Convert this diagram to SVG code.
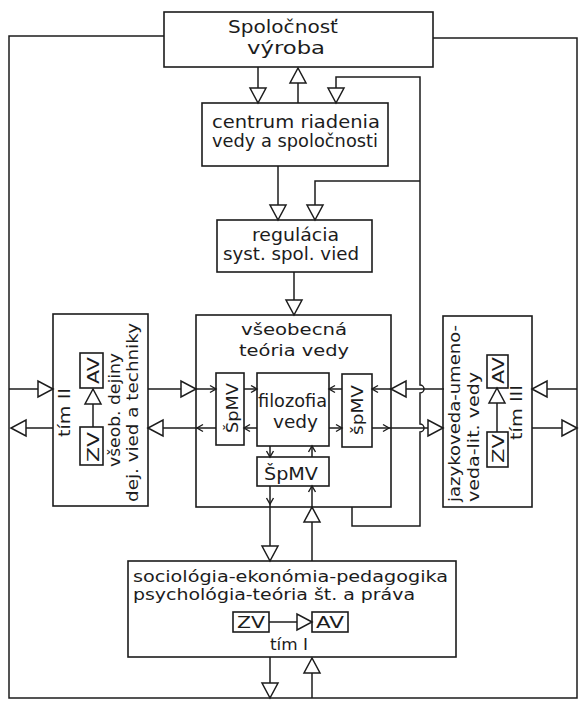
<svg xmlns="http://www.w3.org/2000/svg" width="579" height="701" viewBox="0 0 579 701">
<style>
.bx{fill:none;stroke:#1c1c1c;stroke-width:1.6}
.ln{fill:none;stroke:#1c1c1c;stroke-width:1.5}
.t{font-family:"DejaVu Sans","Liberation Sans",sans-serif;fill:#1c1c1c;font-size:17px}
.s{font-size:16px}
</style>
<defs>
<marker id="tri" markerUnits="userSpaceOnUse" markerWidth="20" markerHeight="20" viewBox="-17 -10 20 20" refX="0" refY="0" orient="auto" overflow="visible">
<path d="M0,0 L-15,-8 L-15,8 Z" fill="#fff" stroke="#1c1c1c" stroke-width="1.5"/>
</marker>
<marker id="chev" markerUnits="userSpaceOnUse" markerWidth="10" markerHeight="10" viewBox="-8 -5 10 10" refX="0" refY="0" orient="auto" overflow="visible">
<path d="M-6,-3.5 L0,0 L-6,3.5" fill="none" stroke="#1c1c1c" stroke-width="1.4"/>
</marker>
</defs>
<rect width="579" height="701" fill="#fff"/>

<g id="connectors">
<path class="ln" d="M164,36 H9 V698 H577 V38 H433"/>
<path class="ln" d="M258,67 V103" marker-end="url(#tri)"/>
<path class="ln" d="M298,103 V68" marker-end="url(#tri)"/>
<path class="ln" d="M352,507 V526 H420 V432 A4,4 0 0 0 420,424 V393 A4,4 0 0 0 420,385 V77 H336 V103" marker-end="url(#tri)"/>
<path class="ln" d="M420,181 H315 V220" marker-end="url(#tri)"/>
<path class="ln" d="M278,166 V220" marker-end="url(#tri)"/>
<path class="ln" d="M294,272 V315" marker-end="url(#tri)"/>

<path class="ln" d="M9,389 H53" marker-end="url(#tri)"/>
<path class="ln" d="M53,428 H11" marker-end="url(#tri)"/>
<path class="ln" d="M148,389 H196" marker-end="url(#tri)"/>
<path class="ln" d="M196,389 H216" marker-end="url(#chev)"/>
<path class="ln" d="M216,428 H197" marker-end="url(#chev)"/>
<path class="ln" d="M197,428 H148" marker-end="url(#tri)"/>
<path class="ln" d="M244,389 H257" marker-end="url(#chev)"/>
<path class="ln" d="M257,428 H244" marker-end="url(#chev)"/>
<path class="ln" d="M342,389 H329" marker-end="url(#chev)"/>
<path class="ln" d="M329,428 H342" marker-end="url(#chev)"/>
<path class="ln" d="M391,389 H372" marker-end="url(#chev)"/>
<path class="ln" d="M444,389 H391" marker-end="url(#tri)"/>
<path class="ln" d="M372,428 H389" marker-end="url(#chev)"/>
<path class="ln" d="M389,428 H443" marker-end="url(#tri)"/>
<path class="ln" d="M577,389 H532" marker-end="url(#tri)"/>
<path class="ln" d="M532,428 H577" marker-end="url(#tri)"/>

<path class="ln" d="M270,446 V457" marker-end="url(#chev)"/>
<path class="ln" d="M312,457 V446" marker-end="url(#chev)"/>
<path class="ln" d="M270,486 V504" marker-end="url(#chev)"/>
<path class="ln" d="M270,504 V561" marker-end="url(#tri)"/>
<path class="ln" d="M312,561 V507" marker-end="url(#tri)"/>
<path class="ln" d="M312,507 V486" marker-end="url(#chev)"/>
<path class="ln" d="M270,657 V698" marker-end="url(#tri)"/>
<path class="ln" d="M312,698 V658" marker-end="url(#tri)"/>

<path class="ln" d="M93,427 V389" marker-end="url(#tri)"/>
<path class="ln" d="M497,432 V388" marker-end="url(#tri)"/>
<path class="ln" d="M269,622 H312" marker-end="url(#tri)"/>
</g>

<g id="spolocnost">
<rect class="bx" x="164" y="12" width="269" height="55"/>
<text class="t" style="font-size:18px" x="228" y="33" textLength="110" lengthAdjust="spacingAndGlyphs">Spoločnosť</text>
<text class="t" style="font-size:18px" x="247" y="54" textLength="78" lengthAdjust="spacingAndGlyphs">výroba</text>
</g>

<g id="centrum">
<rect class="bx" x="202" y="103" width="186" height="63"/>
<text class="t" x="212" y="128" textLength="168" lengthAdjust="spacingAndGlyphs">centrum riadenia</text>
<text class="t" x="212" y="147" textLength="166" lengthAdjust="spacingAndGlyphs">vedy a spoločnosti</text>
</g>

<g id="regulacia">
<rect class="bx" x="217" y="220" width="155" height="52"/>
<text class="t" x="252" y="241" textLength="87" lengthAdjust="spacingAndGlyphs">regulácia</text>
<text class="t" x="223" y="260" textLength="136" lengthAdjust="spacingAndGlyphs">syst. spol. vied</text>
</g>

<g id="vseobecna-teoria">
<rect class="bx" x="196" y="315" width="195" height="192"/>
<text class="t s" x="241" y="335" textLength="106" lengthAdjust="spacingAndGlyphs">všeobecná</text>
<text class="t s" x="239" y="356" textLength="110" lengthAdjust="spacingAndGlyphs">teória vedy</text>
</g>

<g id="spmv-left">
<rect class="bx" x="216" y="373" width="28" height="72"/>
<text class="t s" transform="translate(238,433) rotate(-90)" textLength="50" lengthAdjust="spacingAndGlyphs">ŠpMV</text>
</g>

<g id="filozofia">
<rect class="bx" x="257" y="373" width="72" height="73"/>
<text class="t" x="258" y="407" textLength="69" lengthAdjust="spacingAndGlyphs">filozofia</text>
<text class="t" x="273" y="428" textLength="45" lengthAdjust="spacingAndGlyphs">vedy</text>
</g>

<g id="spmv-right">
<rect class="bx" x="342" y="374" width="30" height="73"/>
<text class="t s" transform="translate(363,435) rotate(-90)" textLength="50" lengthAdjust="spacingAndGlyphs">špMV</text>
</g>

<g id="spmv-bottom">
<rect class="bx" x="257" y="457" width="72" height="29"/>
<text class="t" x="264" y="480" textLength="54" lengthAdjust="spacingAndGlyphs">ŠpMV</text>
</g>

<g id="tim-II">
<rect class="bx" x="53" y="314" width="95" height="192"/>
<text class="t s" transform="translate(70,437) rotate(-90)" textLength="49" lengthAdjust="spacingAndGlyphs">tím II</text>
<rect class="bx" x="80" y="353" width="23" height="35"/>
<text class="t s" transform="translate(99,384) rotate(-90)" textLength="27" lengthAdjust="spacingAndGlyphs">AV</text>
<rect class="bx" x="80" y="427" width="23" height="38"/>
<text class="t s" transform="translate(99,462) rotate(-90)" textLength="30" lengthAdjust="spacingAndGlyphs">ZV</text>
<text class="t s" transform="translate(120,467) rotate(-90)" textLength="114" lengthAdjust="spacingAndGlyphs">všeob. dejiny</text>
<text class="t s" transform="translate(138,502) rotate(-90)" textLength="179" lengthAdjust="spacingAndGlyphs">dej. vied a techniky</text>
</g>

<g id="tim-III">
<rect class="bx" x="443" y="316" width="89" height="191"/>
<text class="t s" transform="translate(460,502) rotate(-90)" textLength="177" lengthAdjust="spacingAndGlyphs">jazykoveda-umeno-</text>
<text class="t s" transform="translate(479,502) rotate(-90)" textLength="130" lengthAdjust="spacingAndGlyphs">veda-lit. vedy</text>
<rect class="bx" x="487" y="355" width="21" height="33"/>
<text class="t s" transform="translate(504,384) rotate(-90)" textLength="27" lengthAdjust="spacingAndGlyphs">AV</text>
<rect class="bx" x="487" y="432" width="21" height="35"/>
<text class="t s" transform="translate(504,463) rotate(-90)" textLength="29" lengthAdjust="spacingAndGlyphs">ZV</text>
<text class="t s" transform="translate(522,440) rotate(-90)" textLength="55" lengthAdjust="spacingAndGlyphs">tím III</text>
</g>

<g id="tim-I">
<rect class="bx" x="128" y="561" width="328" height="96"/>
<text class="t s" x="133" y="582" textLength="315" lengthAdjust="spacingAndGlyphs">sociológia-ekonómia-pedagogika</text>
<text class="t s" x="133" y="600" textLength="282" lengthAdjust="spacingAndGlyphs">psychológia-teória št. a práva</text>
<rect class="bx" x="233" y="612" width="36" height="20"/>
<text class="t s" x="237" y="628" textLength="28" lengthAdjust="spacingAndGlyphs">ZV</text>
<rect class="bx" x="312" y="612" width="36" height="20"/>
<text class="t s" x="316" y="628" textLength="28" lengthAdjust="spacingAndGlyphs">AV</text>
<text class="t s" x="270" y="650" textLength="38" lengthAdjust="spacingAndGlyphs">tím I</text>
</g>
</svg>
